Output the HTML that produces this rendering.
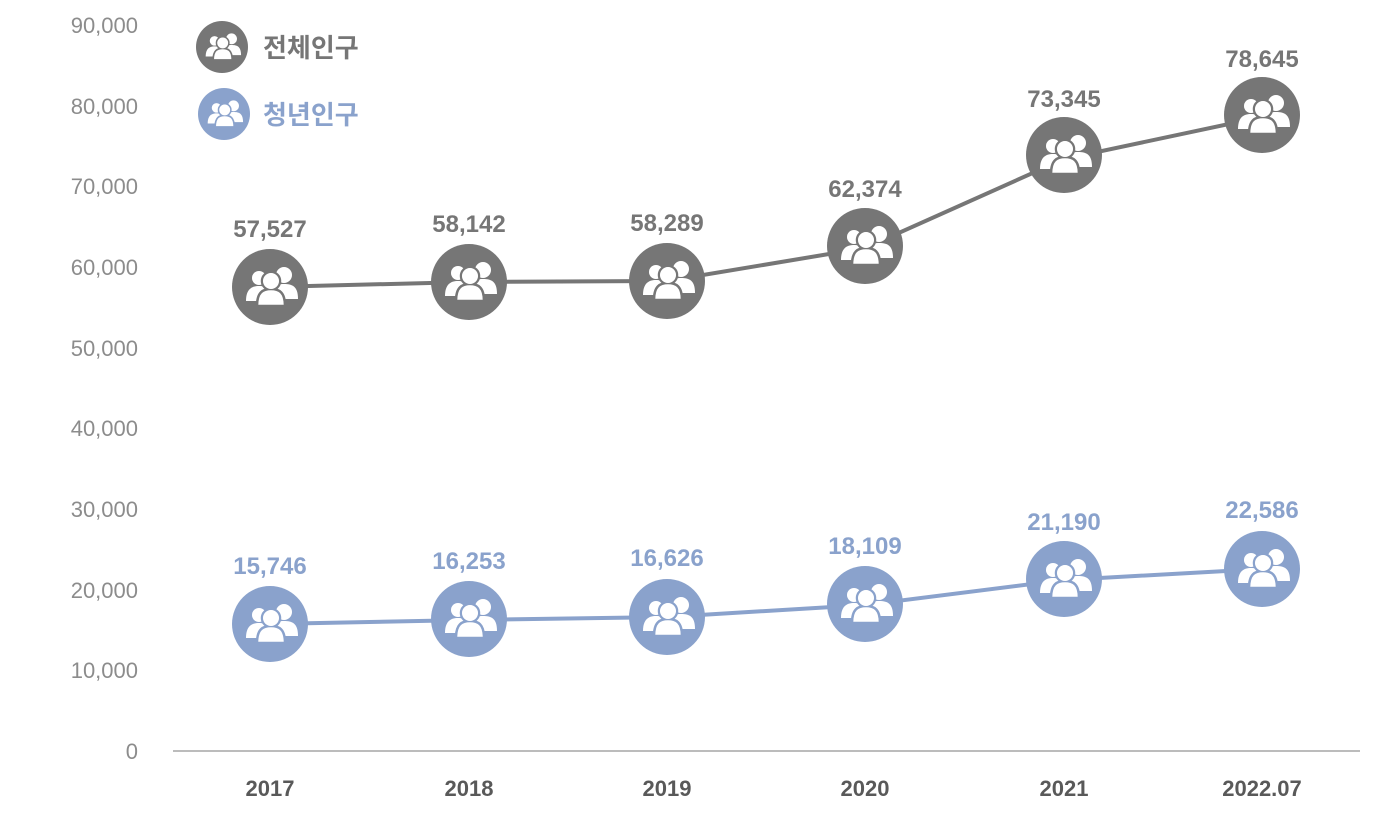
<!DOCTYPE html>
<html><head><meta charset="utf-8"><style>
body{margin:0;background:#fff;}
svg{display:block;font-family:"Liberation Sans","Noto Sans CJK KR",sans-serif;}
</style></head><body>
<svg width="1384" height="817" viewBox="0 0 1384 817">
<defs>
<g id="ppl">
  <circle cx="-11" cy="-9" r="7" fill="#fff"/>
  <path d="M-24 14 C-24 2 -18 -1 -11 -1 C-4 -1 2 2 2 14 Z" fill="#fff"/>
  <circle cx="14" cy="-12" r="8" fill="#fff"/>
  <path d="M0 12 C0 -1 6 -3 14 -3 C22 -3 28 -1 28 12 Z" fill="#fff"/>
  <circle cx="1" cy="-6" r="9" fill="#fff" stroke="currentColor" stroke-width="2.5"/>
  <path d="M-13 19 C-13 5 -7 2 1 2 C9 2 15 5 15 19 Z" fill="#fff" stroke="currentColor" stroke-width="2.5"/>
  <circle cx="1" cy="-6" r="8" fill="#fff"/>
</g>
</defs>
<g fill="#8c8c8c" font-size="22" text-anchor="end">
<text x="138" y="759">0</text>
<text x="138" y="678">10,000</text>
<text x="138" y="598">20,000</text>
<text x="138" y="517">30,000</text>
<text x="138" y="436">40,000</text>
<text x="138" y="356">50,000</text>
<text x="138" y="275">60,000</text>
<text x="138" y="194">70,000</text>
<text x="138" y="114">80,000</text>
<text x="138" y="33">90,000</text>
</g>
<line x1="173" y1="751" x2="1360" y2="751" stroke="#a6a6a6" stroke-width="1.5"/>
<g fill="#595959" font-size="22" font-weight="bold" text-anchor="middle">
<text x="270" y="796">2017</text><text x="469" y="796">2018</text><text x="667" y="796">2019</text>
<text x="865" y="796">2020</text><text x="1064" y="796">2021</text><text x="1262" y="796">2022.07</text>
</g>
<polyline points="270,287 469,282 667,281 865,248 1064,159 1262,117" fill="none" stroke="#767676" stroke-width="4"/>
<polyline points="270,624 469,620 667,617 865,605 1064,580 1262,569" fill="none" stroke="#8aa2cc" stroke-width="4"/>
<g fill="#767676" color="#767676">
<circle cx="270" cy="287" r="38"/><use href="#ppl" x="270" y="287"/>
<circle cx="469" cy="282" r="38"/><use href="#ppl" x="469" y="282"/>
<circle cx="667" cy="281" r="38"/><use href="#ppl" x="667" y="281"/>
<circle cx="865" cy="246" r="38"/><use href="#ppl" x="865" y="246"/>
<circle cx="1064" cy="155" r="38"/><use href="#ppl" x="1064" y="155"/>
<circle cx="1262" cy="115" r="38"/><use href="#ppl" x="1262" y="115"/>
</g>
<g fill="#8aa2cc" color="#8aa2cc">
<circle cx="270" cy="624" r="38"/><use href="#ppl" x="270" y="624"/>
<circle cx="469" cy="619" r="38"/><use href="#ppl" x="469" y="619"/>
<circle cx="667" cy="617" r="38"/><use href="#ppl" x="667" y="617"/>
<circle cx="865" cy="604" r="38"/><use href="#ppl" x="865" y="604"/>
<circle cx="1064" cy="579" r="38"/><use href="#ppl" x="1064" y="579"/>
<circle cx="1262" cy="569" r="38"/><use href="#ppl" x="1262" y="569"/>
</g>
<g fill="#767676" font-size="24" font-weight="bold" text-anchor="middle">
<text x="270" y="237">57,527</text><text x="469" y="232">58,142</text><text x="667" y="231">58,289</text>
<text x="865" y="197">62,374</text><text x="1064" y="107">73,345</text><text x="1262" y="67">78,645</text>
</g>
<g fill="#8aa2cc" font-size="24" font-weight="bold" text-anchor="middle">
<text x="270" y="574">15,746</text><text x="469" y="569">16,253</text><text x="667" y="566">16,626</text>
<text x="865" y="554">18,109</text><text x="1064" y="530">21,190</text><text x="1262" y="518">22,586</text>
</g>
<circle cx="222" cy="47" r="26" fill="#767676"/>
<use href="#ppl" x="222" y="47" transform="translate(222 47) scale(0.68) translate(-222 -47)" color="#767676"/>
<circle cx="224" cy="114" r="26" fill="#8aa2cc"/>
<use href="#ppl" x="224" y="114" transform="translate(224 114) scale(0.68) translate(-224 -114)" color="#8aa2cc"/>
<text x="263" y="57" font-size="26" font-weight="bold" fill="#767676">전체인구</text>
<text x="263" y="124" font-size="26" font-weight="bold" fill="#8aa2cc">청년인구</text>
</svg>
</body></html>
